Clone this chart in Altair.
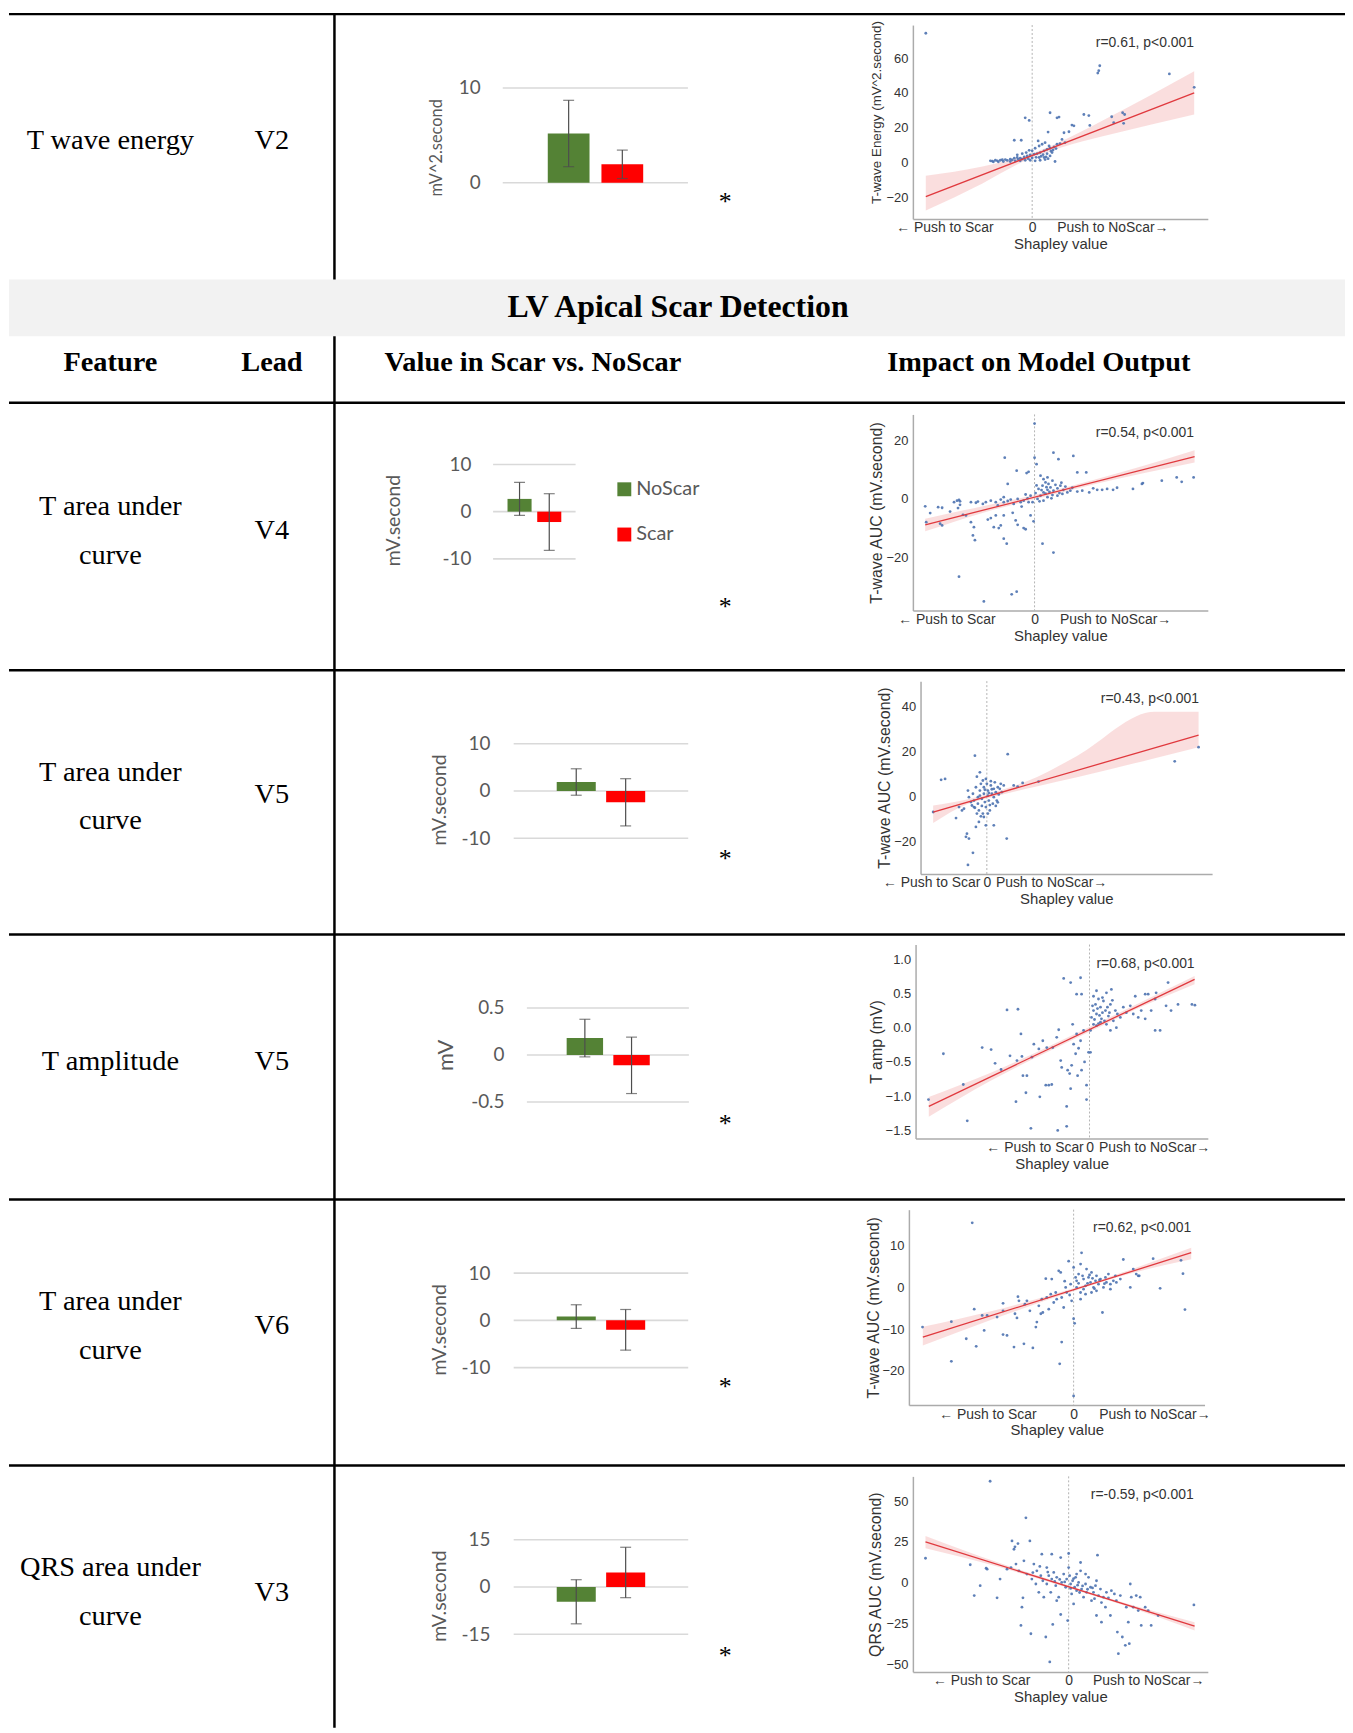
import altair as alt
import pandas as pd

# ------------------------------------------------------------------ data
SECTION_TITLE = "LV Apical Scar Detection"
HEADERS = ["Feature", "Lead", "Value in Scar vs. NoScar", "Impact on Model Output"]
FEATURE_LINES = [
    ["T wave energy"],
    ["T area under", "curve"],
    ["T area under", "curve"],
    ["T amplitude"],
    ["T area under", "curve"],
    ["QRS area under", "curve"],
]
LEADS = ["V2", "V4", "V5", "V5", "V6", "V3"]
SIGNIF = ["*", "*", "*", "*", "*", "*"]
GROUPS = ["NoScar", "Scar"]

# bar charts (mean, standard deviation) for NoScar / Scar
BAR_UNITS = ["mV^2.second", "mV.second", "mV.second", "mV", "mV.second", "mV.second"]
MEAN_V2_TENERGY = [5.2, 1.95]
SD_V2_TENERGY = [3.5, 1.5]
MEAN_V4_TAUC = [2.7, -2.2]
SD_V4_TAUC = [3.5, 6.0]
MEAN_V5_TAUC = [1.9, -2.4]
SD_V5_TAUC = [2.8, 5.0]
MEAN_V5_TAMP = [0.18, -0.11]
SD_V5_TAMP = [0.2, 0.3]
MEAN_V6_TAUC = [0.8, -2.0]
SD_V6_TAUC = [2.5, 4.3]
MEAN_V3_QRSAUC = [-4.7, 4.6]
SD_V3_QRSAUC = [7.0, 8.0]
BAR_TICKS_V2 = [0, 10]
BAR_TICKS_V4 = [-10, 0, 10]
BAR_TICKS_V5 = [-10, 0, 10]
BAR_TICKS_TAMP = [-0.5, 0, 0.5]
BAR_TICKS_V6 = [-10, 0, 10]
BAR_TICKS_V3 = [-15, 0, 15]

# scatter plots: (Shapley value, feature value)
S1_POINTS = [(-1.07, 74.3), (-0.07, 25.7), (-0.03, 24.2), (-0.18, 12.8), (-0.11, 12.8), (0.18, 28.6), (0.25, 25.7),
             (0.27, 26.1), (0.67, 52.8), (0.66, 51.4), (0.68, 55.6), (1.38, 50.9), (1.63, 43.2), (0.52, 27.6),
             (0.57, 27.0), (0.58, 21.3), (0.80, 26.3), (0.82, 22.9), (0.91, 28.6), (0.93, 27.6), (0.92, 22.5),
             (0.40, 21.5), (0.42, 21.1), (0.37, 17.7), (0.32, 17.1), (0.16, 17.5), (0.23, 0.6), (0.30, 13.3),
             (0.33, 11.4), (0.28, 10.9),
             (-0.42, 1.0), (-0.37, 1.3), (-0.32, 1.3), (-0.27, 1.7), (-0.22, 1.9), (-0.18, 2.5), (-0.15, 2.9),
             (-0.12, 2.5), (-0.08, 3.2), (-0.05, 3.8), (-0.02, 4.4), (0.02, 4.8), (0.05, 5.1), (0.08, 5.7),
             (0.12, 6.7), (0.15, 7.6), (0.18, 8.2), (0.22, 9.0), (0.03, 1.0), (0.08, 1.3), (0.13, 1.7), (0.12, 2.9),
             (0.07, 2.9), (-0.02, 1.3), (-0.07, 1.3), (-0.12, 1.0), (-0.17, 1.0), (-0.22, 0.6), (-0.29, 0.6),
             (-0.34, 0.4), (-0.39, 0.4), (0.0, 6.7), (0.03, 8.2), (0.07, 9.5), (0.10, 10.5), (0.13, 11.4),
             (0.06, 12.4), (-0.03, 7.0), (-0.06, 5.7), (-0.10, 5.1), (-0.15, 4.4), (0.15, 5.1), (0.18, 3.8),
             (0.20, 5.7), (0.25, 10.5), (0.17, 9.5),
             (-0.40, 0.8), (-0.35, 1.0), (-0.30, 1.6), (-0.25, 1.2), (-0.20, 1.5), (-0.14, 1.8), (-0.10, 2.0),
             (-0.04, 2.2), (0.0, 2.6), (0.04, 3.0), (0.09, 3.6), (0.11, 4.5), (0.14, 3.2), (0.16, 2.2),
             (0.19, 6.5), (0.21, 7.2), (0.24, 8.0)]
S1_FIT_X = [-1.07, 1.63]
S1_FIT_Y = [-19.6, 40.0]
S1_BAND_X = [-1.07, -0.5, -0.1, 0.3, 0.7, 1.2, 1.63]
S1_BAND_LO = [-27.6, -12.0, 0.3, 8.8, 14.9, 21.9, 27.6]
S1_BAND_HI = [-7.6, -2.3, 3.3, 12.4, 23.9, 38.9, 52.4]
S1_YTICKS = [-20, 0, 20, 40, 60]

S2_POINTS = [(-1.10, -2.5), (-1.09, -7.9), (-1.05, -4.8), (-0.97, -2.8), (-0.93, -3.0), (-0.95, -8.4), (-0.93, -9.0),
             (-0.85, -4.3), (-0.81, -1.1), (-0.78, -0.6), (-0.76, -0.3), (-0.75, -0.8), (-0.77, -3.1), (-0.75, -2.0),
             (-0.72, -5.4), (-0.69, -5.6), (-0.64, -1.1), (-0.59, -1.3), (-0.57, -0.9), (-0.64, -7.9), (-0.62, -12.4),
             (-0.60, -14.0), (-0.61, -9.6), (-0.52, -1.7), (-0.49, -1.1), (-0.44, -0.6), (-0.39, -1.1), (-0.37, -2.2),
             (-0.34, -0.2), (-0.31, 0.6), (-0.31, -1.1), (-0.27, -0.7), (-0.30, 14.0), (-0.27, 5.1), (-0.22, -4.7),
             (-0.18, 9.6), (-0.08, 8.8), (-0.06, 9.2), (-0.06, -1.1), (-0.04, -5.6), (0.0, 25.6), (0.0, 14.0),
             (0.02, 11.8), (-0.01, -7.6), (-0.76, -26.4), (-0.51, -34.8), (-0.23, -32.4), (-0.18, -31.5),
             (-0.19, -7.3), (-0.17, -8.8), (-0.31, -13.5), (-0.28, -15.2), (-0.39, -5.6), (-0.41, -9.6),
             (-0.44, -6.5), (-0.47, -7.0), (-0.36, -9.9), (-0.34, -9.0), (-0.31, -5.6), (-0.11, -9.9), (-0.09, -10.3),
             (0.08, -15.2), (0.19, -18.2), (0.19, 15.7), (0.24, 13.5), (0.39, 14.6), (0.43, 9.0), (0.52, 9.0),
             (0.55, 2.2), (0.59, 3.6), (0.63, 3.1), (0.68, 3.1), (0.73, 3.4), (0.79, 3.1), (0.83, 3.8), (0.99, 3.4),
             (1.08, 5.1), (1.09, 5.4), (1.28, 6.2), (1.43, 7.3), (1.48, 5.8), (1.60, 7.3),
             (0.03, 0.0), (0.06, 1.1), (0.09, 2.2), (0.13, 3.1), (0.16, 3.9), (0.19, 2.8), (0.23, 3.6), (0.26, 4.5),
             (0.29, 3.1), (0.33, 2.2), (0.36, 2.8), (0.08, 4.5), (0.11, 5.6), (0.14, 5.1), (0.18, 6.2), (0.04, 3.4),
             (0.09, -0.6), (0.13, 0.6), (0.18, 1.3), (0.23, 1.1), (0.28, 1.7), (0.43, 2.5), (0.48, 2.8), (-0.04, 1.1),
             (-0.07, 0.2), (-0.11, -0.6), (-0.14, -1.1), (-0.17, 0.0), (-0.21, -1.7), (-0.24, -0.2), (-0.02, -1.1),
             (0.09, 6.7), (0.06, 7.9), (0.13, 7.3), (0.01, 2.0), (0.05, -0.8), (0.11, 1.8), (0.15, 2.4), (0.21, 4.8),
             (0.25, 2.0), (0.31, 4.2), (0.38, 3.8), (0.02, 4.6), (0.07, 3.0), (-0.09, 1.5), (-0.13, -2.6),
             (0.17, 0.2), (0.27, 5.5), (0.12, 4.0)]
S2_FIT_X = [-1.10, 1.61]
S2_FIT_Y = [-8.8, 14.4]
S2_BAND_X = [-1.10, -0.5, 0.0, 0.6, 1.61]
S2_BAND_LO = [-11.0, -4.5, -0.1, 5.0, 12.4]
S2_BAND_HI = [-6.7, -2.3, 1.3, 6.5, 16.5]
S2_YTICKS = [-20, 0, 20]

S3_POINTS = [(-0.54, -6.9), (-0.46, 7.4), (-0.42, 7.8), (-0.31, -9.6), (-0.28, -4.7), (-0.12, 18.1), (-0.10, 8.8),
             (-0.07, 10.7), (-0.21, -17.9), (-0.20, -16.5), (-0.18, -18.7), (-0.19, -30.4), (-0.14, -25.0),
             (0.21, 18.8), (0.20, -18.7), (0.07, -12.8), (-0.01, -12.8), (0.27, 4.9), (0.31, 4.4), (0.36, 6.0),
             (0.52, 6.6), (1.89, 15.6), (2.13, 21.9), (-0.11, -13.5), (-0.08, -11.3), (-0.23, -5.4), (-0.25, -6.2),
             (0.17, 4.9), (0.14, 5.6),
             (-0.14, 1.2), (-0.13, -1.8), (-0.11, 4.1), (-0.09, -0.3), (-0.09, -3.2), (-0.08, -6.2), (-0.07, 2.6),
             (-0.06, 5.6), (-0.05, -1.0), (-0.04, -7.6), (-0.03, 1.2), (-0.03, 4.1), (-0.02, -2.5), (-0.01, -4.7),
             (0.0, 5.6), (0.01, 0.4), (0.01, 2.6), (0.02, -1.8), (0.03, -6.2), (0.04, 4.9), (0.05, 1.2), (0.06, -3.2),
             (0.07, 3.4), (0.07, -0.3), (0.08, 6.3), (0.09, 1.9), (0.10, -1.8), (0.11, 4.1), (0.12, 0.9), (0.13, 3.4),
             (0.15, 1.9), (-0.16, -2.5), (-0.13, -4.7), (-0.10, -7.6), (-0.06, -8.8), (-0.03, -9.1), (0.01, -7.6),
             (-0.18, -0.3), (-0.19, 2.6), (0.04, 6.8), (-0.01, 7.8), (-0.04, 7.1), (-0.12, -5.0), (-0.02, 3.0),
             (0.03, -3.8), (0.05, 3.2), (0.09, -4.2), (-0.07, 0.4), (0.11, -2.6), (-0.15, -4.0), (0.02, 1.6),
             (-0.05, -4.2)]
S3_FIT_X = [-0.54, 2.13]
S3_FIT_Y = [-6.9, 27.2]
S3_BAND_X = [-0.54, -0.2, 0.0, 0.5, 0.907, 1.69, 2.13]
S3_BAND_LO = [-11.8, -3.5, -0.9, 4.4, 8.5, 17.0, 21.8]
S3_BAND_HI = [-4.0, -1.3, 1.0, 8.5, 18.0, 37.6, 37.6]
S3_YTICKS = [-20, 0, 20, 40]

S4_POINTS = [(-1.62, -1.05), (-1.47, -0.38), (-1.27, -0.83), (-1.23, -1.36), (-1.08, -0.29), (-0.99, -0.32),
             (-0.95, -0.52), (-0.89, -0.61), (-0.83, 0.26), (-0.72, 0.27), (-0.80, -0.41), (-0.74, -1.08),
             (-0.73, -0.48), (-0.69, -0.09), (-0.68, -0.42), (-0.67, -0.70), (-0.64, -0.95), (-0.63, -0.70),
             (-0.59, -1.47), (-0.58, -0.43), (-0.56, -0.24), (-0.51, -0.31), (-0.50, -1.01), (-0.47, -0.19),
             (-0.44, -0.84), (-0.43, -0.29), (-0.41, -0.84), (-0.38, -0.83), (-0.37, -0.29), (-0.33, -0.14),
             (-0.32, -1.50), (-0.31, -0.03), (-0.29, -0.48), (-0.28, -0.58), (-0.26, 0.72), (-0.23, -1.15),
             (-0.23, -1.44), (-0.19, -0.89), (-0.19, 0.66), (-0.17, 0.05), (-0.13, 0.49), (-0.09, 0.73),
             (-0.08, 0.49), (-0.03, -0.84), (-0.03, -1.05), (-0.16, -0.24), (-0.14, -0.38), (-0.18, -0.55),
             (-0.20, -0.67), (-0.22, -0.62), (-0.13, -0.09), (-0.09, -0.19), (-0.06, -0.04), (-0.01, -0.36),
             (0.01, -0.36), (0.01, -0.04), (0.02, 0.15), (0.04, 0.25), (0.06, 0.34), (0.07, 0.20), (0.09, 0.42),
             (0.11, 0.30), (0.12, 0.13), (0.14, 0.39), (0.16, 0.25), (0.17, 0.51), (0.19, 0.17), (0.21, 0.34),
             (0.22, 0.56), (0.24, 0.10), (0.26, 0.25), (0.27, 0.00), (0.31, 0.15), (0.04, 0.05), (0.07, 0.03),
             (0.11, 0.08), (0.17, 0.05), (0.21, -0.04), (0.04, 0.46), (0.07, 0.54), (0.34, 0.30), (0.37, 0.22),
             (0.41, 0.32), (0.44, 0.20), (0.46, 0.46), (0.49, 0.15), (0.52, 0.25), (0.56, 0.13), (0.59, 0.49),
             (0.62, 0.25), (0.66, 0.42), (0.66, -0.04), (0.71, -0.04), (0.77, 0.32), (0.79, 0.66), (0.82, 0.25),
             (0.89, 0.34), (1.03, 0.34), (1.06, 0.33), (0.67, 0.51), (0.56, 0.49),
             (0.03, 0.32), (0.05, 0.12), (0.08, 0.28), (0.10, 0.18), (0.13, 0.22), (0.15, 0.10), (0.18, 0.30),
             (0.20, 0.22), (0.09, 0.06), (0.13, 0.44), (0.23, 0.40), (0.28, 0.20), (-0.11, -0.30), (-0.05, -0.50),
             (-0.12, -0.70), (-0.08, -0.62)]
S4_FIT_X = [-1.617, 1.057]
S4_FIT_Y = [-1.148, 0.707]
S4_BAND_X = [-1.617, -1.0, 0.0, 0.5, 1.057]
S4_BAND_LO = [-1.30, -0.78, -0.06, 0.29, 0.634]
S4_BAND_HI = [-1.012, -0.66, 0.01, 0.36, 0.755]
S4_YTICKS = [-1.5, -1.0, -0.5, 0.0, 0.5, 1.0]

S5_POINTS = [(-1.52, -9.5), (-1.23, -8.2), (-1.23, -17.7), (-1.08, -12.3), (-1.02, 15.5), (-1.00, -5.2),
             (-0.98, -14.1), (-0.92, -6.7), (-0.90, -10.3), (-0.87, -6.7), (-0.77, -7.1), (-0.71, -3.8),
             (-0.71, -5.6), (-0.71, -11.3), (-0.67, -11.5), (-0.60, -14.3), (-0.59, -6.3), (-0.57, -7.3),
             (-0.56, -2.2), (-0.55, -3.2), (-0.50, -13.5), (-0.49, -4.0), (-0.47, -3.2), (-0.44, -5.6),
             (-0.41, -14.5), (-0.38, -9.5), (-0.37, -8.3), (-0.35, -4.4), (-0.33, -6.3), (-0.32, -2.8),
             (-0.31, -6.0), (-0.28, 2.1), (-0.27, -2.4), (-0.25, -5.2), (-0.23, -1.6), (-0.22, 2.0), (-0.20, -3.6),
             (-0.18, -1.2), (-0.17, -2.8), (-0.15, 4.0), (-0.14, -18.3), (-0.13, 3.6), (-0.12, -13.1),
             (-0.12, -2.4), (-0.10, -4.8), (-0.08, 0.0), (-0.07, -1.2), (-0.05, 6.3), (-0.03, 0.8), (-0.02, -3.2),
             (0.0, -7.5), (0.01, -8.6), (0.0, -26.0), (0.0, 4.8), (0.03, 1.6), (0.05, 3.2), (0.07, 5.6), (0.08, 8.3),
             (0.10, 2.0), (0.12, 0.4), (0.13, 4.4), (0.15, 2.4), (0.17, 1.2), (0.18, 3.6), (0.20, 0.0), (0.22, 1.6),
             (0.23, 2.8), (0.25, 0.8), (0.27, 2.0), (0.29, -6.0), (0.30, 0.0), (0.32, 2.4), (0.33, 1.2), (0.35, 3.2),
             (0.37, 0.8), (0.40, 1.6), (0.42, 2.8), (0.43, 1.2), (0.47, 2.0), (0.50, 6.7), (0.57, 0.0), (0.60, 4.4),
             (0.63, 3.2), (0.65, 2.8), (0.66, 2.8), (0.80, 6.9), (0.87, -0.2), (1.08, 6.5), (1.10, 3.3),
             (1.12, -5.3), (0.03, 0.0), (0.07, -1.2), (0.10, -0.4), (0.18, -1.2), (0.23, -0.8), (0.37, -0.4),
             (0.07, -2.8), (0.05, 1.0), (0.09, 2.8), (0.14, 1.0), (0.19, 2.2), (0.26, 1.8), (0.31, 0.9),
             (0.12, -1.6), (0.02, 2.4), (-0.04, -1.8), (-0.09, 1.5), (0.16, 3.0), (0.21, -0.3)]
S5_FIT_X = [-1.517, 1.183]
S5_FIT_Y = [-11.9, 8.33]
S5_BAND_X = [-1.517, -0.8, 0.0, 0.6, 1.183]
S5_BAND_LO = [-13.9, -7.5, -0.9, 3.5, 6.75]
S5_BAND_HI = [-9.4, -5.5, -0.2, 4.5, 9.5]
S5_YTICKS = [-20, -10, 0, 10]

S6_POINTS = [(-1.44, 15.0), (-0.99, 11.0), (-0.95, -7.9), (-0.89, -1.8), (-0.83, 8.9), (-0.82, 8.3), (-0.79, 62.2),
             (-0.72, -9.3), (-0.69, 2.2), (-0.62, 8.3), (-0.58, 9.3), (-0.57, 25.6), (-0.55, 20.5), (-0.54, 22.0),
             (-0.53, 11.4), (-0.51, 24.0), (-0.50, 7.3), (-0.48, -26.2), (-0.47, -15.0), (-0.46, -9.3),
             (-0.45, 13.4), (-0.43, 39.8), (-0.42, 5.3), (-0.39, 25.6), (-0.38, -31.3), (-0.37, 2.2), (-0.35, 11.4),
             (-0.33, -0.8), (-0.32, 7.3), (-0.30, -5.9), (-0.28, 4.3), (-0.27, 17.5), (-0.26, 1.2), (-0.23, -33.3),
             (-0.22, 9.3), (-0.22, -0.8), (-0.20, 4.3), (-0.19, -48.6), (-0.18, -5.9), (-0.17, 17.5), (-0.17, 2.2),
             (-0.16, -25.6), (-0.15, 6.3), (-0.13, -1.8), (-0.12, 3.3), (-0.10, -8.9), (-0.08, -19.5), (-0.08, 15.4),
             (-0.07, 0.2), (-0.05, 5.3), (-0.03, -2.8), (-0.02, 2.2), (-0.01, -23.2), (0.0, 17.9), (0.0, 9.3),
             (0.01, 4.3), (0.02, -0.8), (0.03, -6.9), (0.04, 1.2), (0.06, -2.8), (0.07, 3.3), (0.08, -4.9),
             (0.10, 0.2), (0.12, 7.3), (0.12, 12.4), (0.13, -3.9), (0.15, -8.9), (0.17, -0.8), (0.18, -5.9),
             (0.20, 3.3), (0.22, -2.8), (0.23, -11.0), (0.25, -5.9), (0.27, -1.8), (0.28, -20.1), (0.29, 16.9),
             (0.30, -7.9), (0.32, -3.9), (0.33, -24.2), (0.35, -8.9), (0.37, -15.0), (0.38, -5.9), (0.40, -9.3),
             (0.42, -20.1), (0.43, -4.9), (0.46, -6.9), (0.48, -11.0), (0.49, -30.3), (0.50, -43.5), (0.52, -7.9),
             (0.54, -33.3), (0.57, -38.4), (0.58, -15.0), (0.60, -24.2), (0.61, -37.4), (0.62, -0.8), (0.63, -8.9),
             (0.65, -15.0), (0.68, -7.9), (0.70, -17.1), (0.72, -8.9), (0.73, -26.2), (0.77, -15.0), (0.80, -17.1),
             (0.83, -26.2), (0.90, -20.1), (1.26, -13.6), (0.05, -13.0), (0.08, 5.3), (0.17, 5.3), (0.28, 1.2),
             (-0.12, -11.0), (-0.25, -8.9), (0.02, -3.5), (0.05, 2.5), (0.09, -1.5), (0.14, -2.0), (0.19, -4.0),
             (0.24, -3.2), (-0.04, 0.5), (-0.09, 2.0), (-0.14, 0.8), (-0.21, 6.5), (-0.29, 10.0), (-0.36, 6.2),
             (0.11, -6.0), (0.26, -9.8), (0.33, -12.2)]
S6_FIT_X = [-1.44, 1.267]
S6_FIT_Y = [25.0, -26.6]
S6_BAND_X = [-1.44, -0.7, 0.0, 0.6, 1.267]
S6_BAND_LO = [21.1, 9.6, -3.2, -14.8, -29.3]
S6_BAND_HI = [28.7, 12.2, -1.7, -13.0, -24.2]
S6_YTICKS = [-50, -25, 0, 25, 50]

SCATTER_YTITLES = ["T-wave Energy (mV^2.second)", "T-wave AUC (mV.second)", "T-wave AUC (mV.second)",
                   "T amp (mV)", "T-wave AUC (mV.second)", "QRS AUC (mV.second)"]
SCATTER_STATS = ["r=0.61, p<0.001", "r=0.54, p<0.001", "r=0.43, p<0.001", "r=0.68, p<0.001",
                 "r=0.62, p<0.001", "r=-0.59, p<0.001"]
X_LEFT_LABEL = "← Push to Scar"
X_RIGHT_LABEL = "Push to NoScar→"
X_TITLE = "Shapley value"

# ------------------------------------------------------------------ style / layout (reference page pixels)
MARGIN = 8
W, H = 1353 - MARGIN, 1733 - MARGIN
SERIF = "Liberation Serif"
SANS = "Liberation Sans"
XLF = "Lato"
GREEN, RED_BAR = "#548235", "#ff0000"
GREY_TXT = "#595959"
GRID = "#d9d9d9"
ERR = "#4d4d4d"
DOT = "#4c72b0"
FIT = "#e0393e"
SPINE = "#ababab"
DARK = "#333333"


def px(x):
    return x - MARGIN


def py(y):
    return y - MARGIN


def one(t):
    return pd.DataFrame({"t": [t]})


def text_layer(txt, x, y, size, font=SERIF, weight="normal", align="center", baseline="alphabetic", color="black"):
    return alt.Chart(one(txt)).mark_text(
        font=font, fontSize=size, fontWeight=weight, align=align, baseline=baseline, color=color
    ).encode(text="t:N", x=alt.value(px(x)), y=alt.value(py(y)))


def hline(y, x0=9, x1=1353, w=2.5):
    return alt.Chart(one("")).mark_rule(color="black", strokeWidth=w).encode(
        x=alt.value(px(x0)), x2=alt.value(px(x1)), y=alt.value(py(y)))


def vline(x, y0, y1, w=2.5):
    return alt.Chart(one("")).mark_rule(color="black", strokeWidth=w).encode(
        x=alt.value(px(x)), y=alt.value(py(y0)), y2=alt.value(py(y1)))


BAR_GEOM = [
    dict(gl=505.7, gr=692, ydom=(0, 10), yr=(178.7, 83.3), xr=(551, 647), pi=0.222, lab=483, tx=439, ty=143, ts=16.5),
    dict(gl=496, gr=579, ydom=(-10, 10), yr=(557, 462), xr=(510.5, 564.6), pi=0.19, lab=473.7, tx=396, ty=518, ts=19.5),
    dict(gl=516.7, gr=692.3, ydom=(-10, 10), yr=(838, 743), xr=(560, 649), pi=0.21, lab=492.8, tx=442.6, ty=799, ts=19.5),
    dict(gl=530, gr=693, ydom=(-0.5, 0.5), yr=(1103.4, 1008.8), xr=(570, 653.6), pi=0.22, lab=507, tx=448.3, ty=1056, ts=22),
    dict(gl=516.7, gr=692.3, ydom=(-10, 10), yr=(1370.6, 1275.5), xr=(560, 649), pi=0.21, lab=492.8, tx=442.6, ty=1332, ts=19.5),
    dict(gl=516.7, gr=692.3, ydom=(-15, 15), yr=(1638.8, 1543.7), xr=(560, 649), pi=0.21, lab=492.8, tx=442.6, ty=1600, ts=19.5),
]

SCAT_GEOM = [
    dict(left=918.3, right=1215, top=20, bottom=215, xdom=(-1.20, 1.767), ydom=(-32.4, 79.0), xlab=(-0.883, 0.807),
         stat=(1151.7, 38.3), tx=881.7, ty=107.5, ts=13.5, fmt="d"),
    dict(left=918.3, right=1215, top=411.7, bottom=609, xdom=(-1.224, 1.743), ydom=(-37.9, 28.7), xlab=(-0.887, 0.81),
         stat=(1151.7, 430.7), tx=881.7, ts=16, fmt="d"),
    dict(left=926, right=1219.3, top=680, bottom=874, xdom=(-0.667, 2.266), ydom=(-34.4, 51.2), xlab=(-0.56, 0.646),
         stat=(1156.7, 698.3), tx=889.3, ts=16, fmt="d"),
    dict(left=921, right=1215, top=945, bottom=1140, xdom=(-1.75, 1.19), ydom=(-1.617, 1.215), xlab=(-0.553, 0.65),
         stat=(1152.3, 964.3), tx=881.7, ts=16, fmt=".1f"),
    dict(left=914.3, right=1211.7, top=1211.7, bottom=1408.3, xdom=(-1.657, 1.317), ydom=(-28.2, 18.65),
         xlab=(-0.867, 0.813), stat=(1149, 1230), tx=878.3, ts=16, fmt="d"),
    dict(left=918.3, right=1215, top=1480, bottom=1676.7, xdom=(-1.567, 1.40), ydom=(-54.7, 65.2), xlab=(-0.88, 0.80),
         stat=(1149, 1498.3), tx=881, ts=16, fmt="d"),
]

ROW_FEATURE_BASELINES = [[145], [512.5, 562], [780, 829], [1071.4], [1312.6, 1361.5], [1580.3, 1630]]
ROW_LEAD_BASELINE = [145, 537, 803, 1071.4, 1337, 1605.7]
ROW_STAR_CENTER = [194.5, 601, 855, 1122, 1386.5, 1656.5]


def bar_panel(means, sds, ticks, unit, g):
    df = pd.DataFrame({"group": GROUPS, "mean": means, "sd": sds})
    ys = alt.Scale(domain=list(g["ydom"]), range=[py(g["yr"][0]), py(g["yr"][1])], nice=False, zero=False)
    xs = alt.Scale(domain=GROUPS, range=[px(g["xr"][0]), px(g["xr"][1])], paddingInner=g["pi"], paddingOuter=0)
    yaxis = alt.Axis(
        orient="left", offset=-px(g["gl"]), values=ticks,
        labelExpr="(datum.value < 0 ? '-' : '') + format(abs(datum.value), '~g')",
        labelFont=XLF, labelFontSize=19, labelColor=GREY_TXT, labelPadding=g["gl"] - g["lab"],
        domain=False, ticks=False, tickSize=0, grid=False,
        title=unit, titleFont=XLF, titleFontSize=g["ts"], titleFontWeight="normal", titleColor=GREY_TXT,
        titleAngle=270, titleAlign="center", titleBaseline="middle",
        titleX=g["tx"] - g["gl"], titleY=py(g["ty"]))
    X = alt.X("group:N", scale=xs, axis=None)
    base = alt.Chart(df).transform_calculate(lo="datum.mean - datum.sd", hi="datum.mean + datum.sd", base="0")
    grid = alt.Chart(pd.DataFrame({"t": ticks})).mark_rule(color=GRID, strokeWidth=1.6).encode(
        y=alt.Y("t:Q", scale=ys, axis=yaxis), x=alt.value(px(g["gl"])), x2=alt.value(px(g["gr"])))
    bars = base.mark_bar().encode(
        x=X, y=alt.Y("mean:Q", scale=ys, axis=yaxis), y2="base:Q",
        color=alt.Color("group:N", scale=alt.Scale(domain=GROUPS, range=[GREEN, RED_BAR]), legend=None))
    err = base.mark_rule(color=ERR, strokeWidth=1.2).encode(x=X, y=alt.Y("lo:Q", scale=ys, axis=yaxis), y2="hi:Q")
    cap_lo = base.mark_tick(color=ERR, thickness=1.2, size=11).encode(x=X, y=alt.Y("lo:Q", scale=ys, axis=yaxis))
    cap_hi = base.mark_tick(color=ERR, thickness=1.2, size=11).encode(x=X, y=alt.Y("hi:Q", scale=ys, axis=yaxis))
    return alt.layer(grid, bars, err, cap_lo, cap_hi)


def scatter_panel(points, fit_x, fit_y, band_x, band_lo, band_hi, yticks, ytitle, stat, g):
    pts = pd.DataFrame(points, columns=["x", "y"])
    xs = alt.Scale(domain=list(g["xdom"]), range=[px(g["left"]), px(g["right"])], nice=False, zero=False)
    ys = alt.Scale(domain=list(g["ydom"]), range=[py(g["bottom"]), py(g["top"])], nice=False, zero=False)
    xaxis = alt.Axis(
        orient="bottom", offset=py(g["bottom"]) - H, values=[g["xlab"][0], 0, g["xlab"][1]],
        labelExpr="datum.value < 0 ? '%s' : (datum.value > 0 ? '%s' : '0')" % (X_LEFT_LABEL, X_RIGHT_LABEL),
        labelFont=SANS, labelFontSize=14, labelColor=DARK, labelPadding=9, labelBaseline="middle",
        labelOverlap=False, labelFlush=False, labelBound=False,
        ticks=False, tickSize=0, grid=False, domainColor=SPINE, domainWidth=1.5,
        title=X_TITLE, titleFont=SANS, titleFontSize=15, titleFontWeight="normal", titleColor=DARK,
        titleY=25, titleBaseline="middle")
    ykw = dict(titleX=g["tx"] - g["left"])
    if "ty" in g:
        ykw["titleY"] = py(g["ty"])
    yaxis = alt.Axis(
        orient="left", offset=-px(g["left"]), values=yticks, format=g["fmt"],
        labelFont=SANS, labelFontSize=13, labelColor=DARK, labelPadding=5,
        ticks=False, tickSize=0, grid=False, domainColor=SPINE, domainWidth=1.5,
        title=ytitle, titleFont=SANS, titleFontSize=g["ts"], titleFontWeight="normal", titleColor=DARK,
        titleAngle=270, titleAlign="center", titleBaseline="middle", **ykw)
    band = alt.Chart(pd.DataFrame({"x": band_x, "lo": band_lo, "hi": band_hi})).mark_area(
        color=FIT, opacity=0.17, interpolate="monotone").encode(
        x=alt.X("x:Q", scale=xs, axis=xaxis), y=alt.Y("lo:Q", scale=ys, axis=yaxis), y2="hi:Q")
    zero = alt.Chart(pd.DataFrame({"x": [0], "top": [g["ydom"][1]], "bot": [g["ydom"][0]]})).mark_rule(
        color="#b3b3b3", strokeDash=[2, 2], strokeWidth=1).encode(
        x=alt.X("x:Q", scale=xs, axis=xaxis), y=alt.Y("top:Q", scale=ys, axis=yaxis), y2="bot:Q")
    dots = alt.Chart(pts).mark_circle(size=8, color=DOT, opacity=0.9).encode(
        x=alt.X("x:Q", scale=xs, axis=xaxis), y=alt.Y("y:Q", scale=ys, axis=yaxis))
    fit = alt.Chart(pd.DataFrame({"x": fit_x, "y": fit_y})).mark_line(color=FIT, strokeWidth=1.3).encode(
        x=alt.X("x:Q", scale=xs, axis=xaxis), y=alt.Y("y:Q", scale=ys, axis=yaxis))
    ann = text_layer(stat, g["stat"][0], g["stat"][1], 14, font=SANS, baseline="middle", color=DARK)
    return alt.layer(band, zero, dots, fit, ann)


layers = []
# table frame
layers.append(alt.Chart(one("")).mark_rect(color="#f2f2f2").encode(
    x=alt.value(px(9)), x2=alt.value(px(1353)), y=alt.value(py(276)), y2=alt.value(py(333))))
for yy in [9, 400, 669, 935, 1201.5, 1469]:
    layers.append(hline(yy))
layers.append(vline(336.4, 9, 276))
layers.append(vline(336.4, 333, 1733))

# header texts
layers.append(text_layer(SECTION_TITLE, 682, 313.3, 32, weight="bold"))
for h, xc in zip(HEADERS, [111, 273.5, 536, 1045]):
    layers.append(text_layer(h, xc, 368.3, 28.5, weight="bold"))

# row texts
for i in range(6):
    for line, yb in zip(FEATURE_LINES[i], ROW_FEATURE_BASELINES[i]):
        layers.append(text_layer(line, 111, yb, 28.5))
    layers.append(text_layer(LEADS[i], 273.5, ROW_LEAD_BASELINE[i], 28.5))
    layers.append(text_layer(SIGNIF[i], 729.5, ROW_STAR_CENTER[i] + 12, 26))

# bar charts
bar_specs = [
    (MEAN_V2_TENERGY, SD_V2_TENERGY, BAR_TICKS_V2),
    (MEAN_V4_TAUC, SD_V4_TAUC, BAR_TICKS_V4),
    (MEAN_V5_TAUC, SD_V5_TAUC, BAR_TICKS_V5),
    (MEAN_V5_TAMP, SD_V5_TAMP, BAR_TICKS_TAMP),
    (MEAN_V6_TAUC, SD_V6_TAUC, BAR_TICKS_V6),
    (MEAN_V3_QRSAUC, SD_V3_QRSAUC, BAR_TICKS_V3),
]
for i, (m, s, t) in enumerate(bar_specs):
    layers.append(bar_panel(m, s, t, BAR_UNITS[i], BAR_GEOM[i]))

# legend (row V4)
leg_df = pd.DataFrame({"group": GROUPS})
leg_y = alt.Y("group:N", scale=alt.Scale(type="point", domain=GROUPS, range=[py(487), py(532.5)], padding=0), axis=None)
leg_sq = alt.Chart(leg_df).mark_square(size=196, opacity=1).encode(
    x=alt.value(px(628)), y=leg_y,
    color=alt.Color("group:N", scale=alt.Scale(domain=GROUPS, range=[GREEN, RED_BAR]), legend=None))
leg_tx = alt.Chart(leg_df).mark_text(align="left", baseline="middle", font=XLF, fontSize=20, color=GREY_TXT).encode(
    x=alt.value(px(640)), y=leg_y, text="group:N")
layers.append(alt.layer(leg_sq, leg_tx))

# scatter plots
scat_specs = [
    (S1_POINTS, S1_FIT_X, S1_FIT_Y, S1_BAND_X, S1_BAND_LO, S1_BAND_HI, S1_YTICKS),
    (S2_POINTS, S2_FIT_X, S2_FIT_Y, S2_BAND_X, S2_BAND_LO, S2_BAND_HI, S2_YTICKS),
    (S3_POINTS, S3_FIT_X, S3_FIT_Y, S3_BAND_X, S3_BAND_LO, S3_BAND_HI, S3_YTICKS),
    (S4_POINTS, S4_FIT_X, S4_FIT_Y, S4_BAND_X, S4_BAND_LO, S4_BAND_HI, S4_YTICKS),
    (S5_POINTS, S5_FIT_X, S5_FIT_Y, S5_BAND_X, S5_BAND_LO, S5_BAND_HI, S5_YTICKS),
    (S6_POINTS, S6_FIT_X, S6_FIT_Y, S6_BAND_X, S6_BAND_LO, S6_BAND_HI, S6_YTICKS),
]
for i, spec in enumerate(scat_specs):
    layers.append(scatter_panel(*spec, SCATTER_YTITLES[i], SCATTER_STATS[i], SCAT_GEOM[i]))

chart = alt.layer(*layers).resolve_scale(
    x="independent", y="independent", color="independent"
).properties(
    width=W, height=H, padding=0, autosize=alt.AutoSizeParams(type="none")
).configure_view(strokeWidth=0)

chart.save("out.html", embed_options={"renderer": "svg", "actions": False})
